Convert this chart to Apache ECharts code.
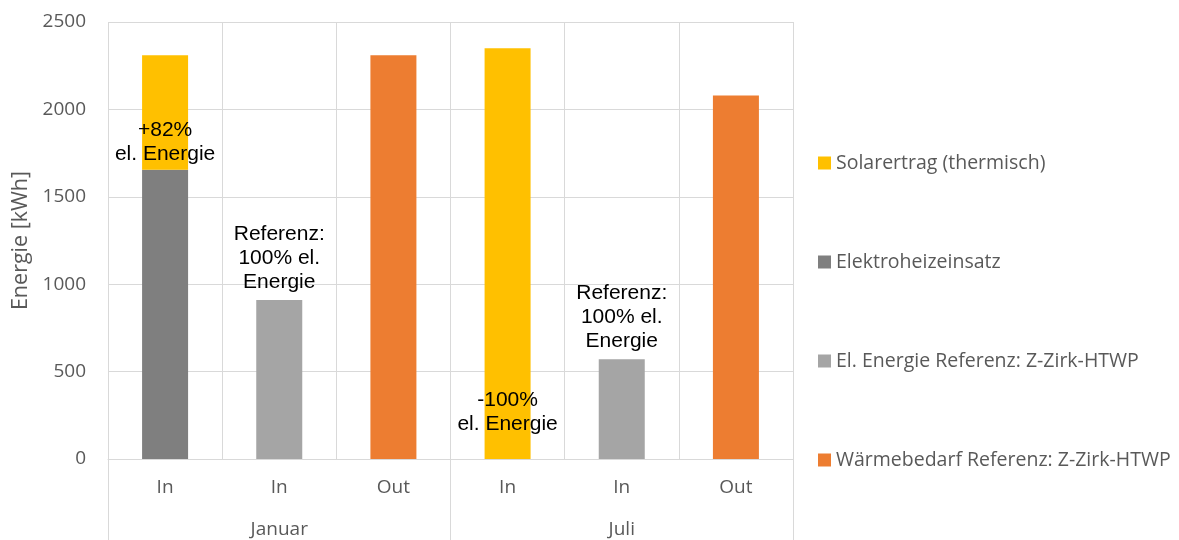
<!DOCTYPE html>
<html>
<head>
<meta charset="utf-8">
<script src="https://cdn.jsdelivr.net/npm/echarts@6/dist/echarts.min.js"></script>
<style>
  html, body { margin: 0; padding: 0; background: #fff; }
  #chart { width: 1179px; height: 540px; }
</style>
</head>
<body>
<div id="chart"></div>
<script>
// Monthly energy balance: input vs. output per month
const categories = ['In', 'In', 'Out', 'In', 'In', 'Out'];
const months = ['Januar', 'Juli'];
const yTicks = [0, 500, 1000, 1500, 2000, 2500];

const elektroheizeinsatz = [1655, null, null, 0, null, null];
const solarertrag = [655, null, null, 2350, null, null];
const elEnergieReferenz = [null, 910, null, null, 570, null];
const waermebedarfReferenz = [null, null, 2310, null, null, 2080];

const seriesNames = {
  solar: 'Solarertrag (thermisch)',
  elektro: 'Elektroheizeinsatz',
  elRef: 'El. Energie Referenz: Z-Zirk-HTWP',
  waerme: 'Wärmebedarf Referenz: Z-Zirk-HTWP'
};

const labelFont = { fontFamily: 'Liberation Sans', fontSize: 21, lineHeight: 24, color: '#000' };
const axisFont = { fontFamily: 'Open Sans', color: '#595959' };
const gridColor = '#D9D9D9';

const chart = echarts.init(document.getElementById('chart'), null, { renderer: 'canvas' });

const solarData = solarertrag.map((v, i) => {
  if (i === 0) {
    return { value: v, label: { show: true, position: 'insideBottom', distance: 4, formatter: '+82%\nel. Energie', ...labelFont } };
  }
  if (i === 3) {
    return { value: v, label: { show: true, position: 'insideBottom', distance: 23, formatter: '-100%\nel. Energie', ...labelFont } };
  }
  return v;
});

chart.setOption({
  animation: false,
  grid: { left: 108, right: 386, top: 22, bottom: 81 },
  legend: {
    orient: 'vertical',
    left: 818,
    top: 153,
    padding: 0,
    itemWidth: 13,
    itemHeight: 13,
    itemGap: 79,
    icon: 'rect',
    textStyle: { ...axisFont, fontSize: 19.5 },
    data: [seriesNames.solar, seriesNames.elektro, seriesNames.elRef, seriesNames.waerme]
  },
  xAxis: [
    {
      type: 'category',
      data: categories,
      position: 'bottom',
      axisLine: { show: true, lineStyle: { color: gridColor, width: 1 } },
      axisTick: { show: false },
      splitLine: { show: true, lineStyle: { color: gridColor, width: 1 } },
      axisLabel: { ...axisFont, fontSize: 19, margin: 19, interval: 0 }
    },
    {
      type: 'category',
      data: months,
      position: 'bottom',
      axisLine: { show: false },
      axisTick: { show: true, length: 81, lineStyle: { color: gridColor, width: 1 } },
      splitLine: { show: false },
      axisLabel: { ...axisFont, fontSize: 19, margin: 61, interval: 0 }
    }
  ],
  yAxis: {
    type: 'value',
    min: yTicks[0],
    max: yTicks[yTicks.length - 1],
    interval: 500,
    name: 'Energie [kWh]',
    nameLocation: 'middle',
    nameGap: 69,
    nameTextStyle: { ...axisFont, fontSize: 21.5 },
    axisLine: { show: false },
    axisTick: { show: false },
    splitLine: { show: true, lineStyle: { color: gridColor, width: 1 } },
    axisLabel: { ...axisFont, fontSize: 19, margin: 22, formatter: (v) => String(v) }
  },
  series: [
    {
      name: seriesNames.elektro, type: 'bar', stack: 'e', barWidth: 46,
      itemStyle: { color: '#7F7F7F' }, data: elektroheizeinsatz
    },
    {
      name: seriesNames.solar, type: 'bar', stack: 'e', barWidth: 46,
      itemStyle: { color: '#FFC000' }, data: solarData
    },
    {
      name: seriesNames.elRef, type: 'bar', stack: 'e', barWidth: 46,
      itemStyle: { color: '#A5A5A5' },
      label: { show: true, position: 'top', distance: 6, formatter: 'Referenz:\n100% el.\nEnergie', ...labelFont },
      data: elEnergieReferenz
    },
    {
      name: seriesNames.waerme, type: 'bar', stack: 'e', barWidth: 46,
      itemStyle: { color: '#ED7D31' }, data: waermebedarfReferenz
    }
  ]
});
</script>
</body>
</html>
